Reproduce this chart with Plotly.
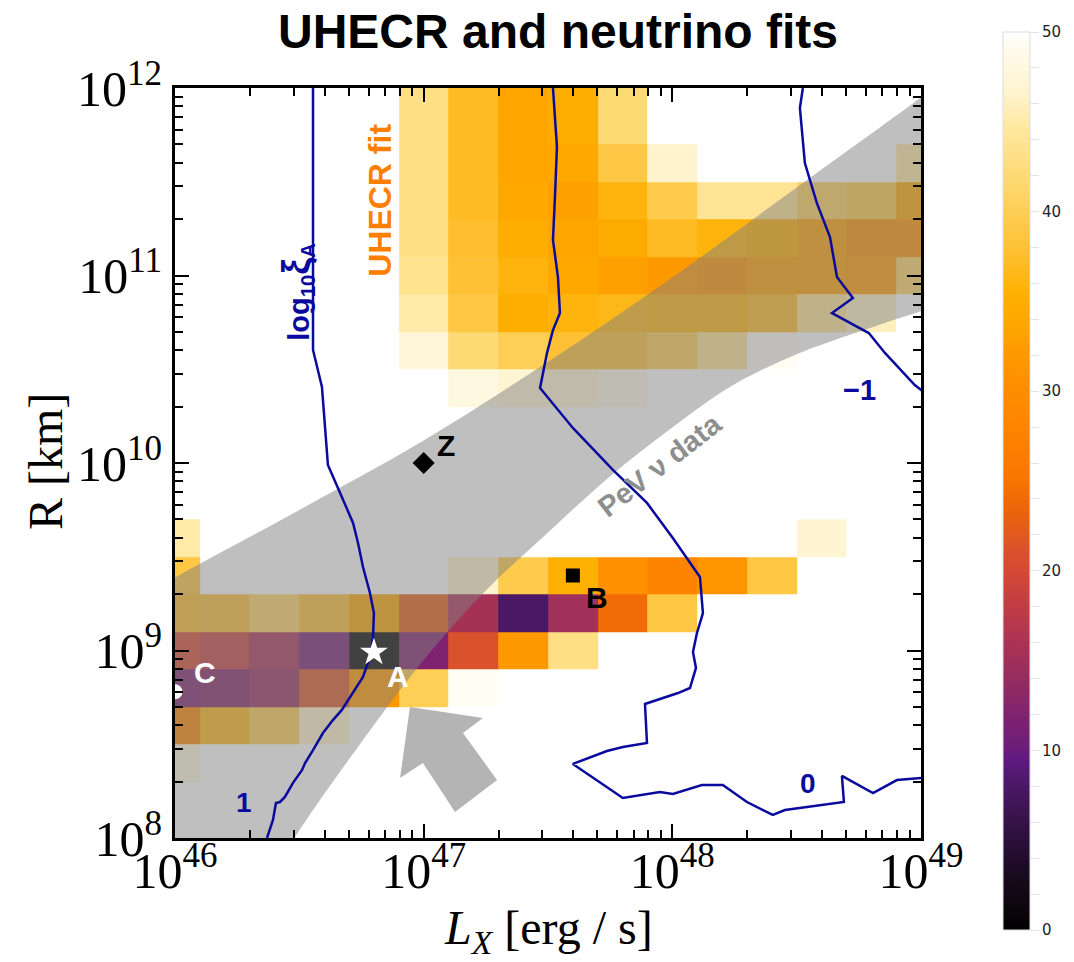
import numpy as np
import plotly.graph_objects as go

N = None
# ---- heatmap grid (cell centers in log10 units) ----
logL_centers = [46.0 + 0.2 * i for i in range(16)]
logR_centers = [8.0 + 0.2 * j for j in range(21)]

# rows listed from top (logR=12.0) to bottom (logR=8.0); columns logL 46.0 .. 49.0
z_top_to_bottom = [
    [N, N, N, N, N, 43, 37, 33.5, 35, 42, N, N, N, N, N, N],            # 12.0
    [N, N, N, N, N, 43, 37, 33.5, 35, 42, N, N, N, N, N, N],            # 11.8
    [N, N, N, N, N, 43, 37, 33.5, 34, 39, 46.5, N, N, N, N, 45],        # 11.6
    [N, N, N, N, N, 43, 37, 34, 33, 36, 39.5, 44, 44, 40.5, 39.5, 34],  # 11.4
    [N, N, N, N, N, 43, 37.5, 35, 33.5, 34.5, 37, 36, 35, 33, 30.5, 31],  # 11.2
    [N, N, N, N, N, 43.5, 38, 36, 34, 33, 32, 31.5, 33, 33, 32, 41],    # 11.0
    [N, N, N, N, N, 45, 39, 35, 36, 36.5, 36, 36, 37, 44, 46, N],       # 10.8
    [N, N, N, N, N, 47.5, 42, 40, 38, 38, 40, 44, 49.5, N, N, N],       # 10.6
    [N, N, N, N, N, N, 48, 47, 47, 48.5, N, N, N, N, N, N],             # 10.4
    [N] * 16,                                                           # 10.2
    [N] * 16,                                                           # 10.0
    [N] * 16,                                                           # 9.8
    [45, N, N, N, N, N, N, N, N, N, N, N, N, 47, N, N],                 # 9.6
    [39, N, N, N, N, N, 46.5, 39.5, 35.5, 30.5, 28, 31.5, 39, N, N, N],  # 9.4
    [37.5, 38, 41, 38, 34, 22.5, 15.5, 8, 15, 24, 39, N, N, N, N, N],   # 9.2
    [20, 18.5, 15.5, 11, 0.5, 12, 21, 32, 43, N, N, N, N, N, N, N],     # 9.0
    [12, 12.5, 14, 21.5, 32, 40, 49.5, N, N, N, N, N, N, N, N, N],      # 8.8
    [28.5, 36.5, 40, 46.5, N, N, N, N, N, N, N, N, N, N, N, N],         # 8.6
    [48, N, N, N, N, N, N, N, N, N, N, N, N, N, N, N],                  # 8.4
    [N] * 16,                                                           # 8.2
    [N] * 16,                                                           # 8.0
]
z = [[np.nan if v is None else v for v in row] for row in z_top_to_bottom[::-1]]

# ---- PeV neutrino band edges (log10 L, log10 R) ----
band_upper_logL = [45.8, 46.0, 46.5, 47.0, 47.5, 48.0, 48.5, 49.0, 49.2]
band_upper_logR = [9.24, 9.39, 9.75, 10.12, 10.54, 10.99, 11.47, 11.95, 12.15]
band_lower_logL = [49.2, 49.0, 48.75, 48.5, 48.25, 48.0, 47.75, 47.5, 47.25, 47.0, 46.7, 46.48, 46.3, 45.8]
band_lower_logR = [10.88, 10.81, 10.70, 10.58, 10.42, 10.19, 9.93, 9.63, 9.32, 8.95, 8.42, 8.0, 7.6, 7.6]

# ---- log10 xi_A contours ----
c1_logL = [46.555, 46.555, 46.591, 46.603, 46.615, 46.671, 46.716, 46.736, 46.756, 46.784, 46.800,
           46.796, 46.784, 46.756, 46.716, 46.671, 46.635, 46.595, 46.555, 46.523, 46.511, 46.474,
           46.442, 46.422, 46.406, 46.394, 46.370]
c1_logR = [12.0, 10.603, 10.405, 10.176, 9.989, 9.819, 9.680, 9.573, 9.445, 9.307, 9.200,
           9.056, 8.965, 8.859, 8.773, 8.683, 8.629, 8.560, 8.469, 8.400, 8.363, 8.293,
           8.219, 8.192, 8.187, 8.096, 8.0]
c0_logL = [47.520, 47.536, 47.528, 47.520, 47.540, 47.548, 47.520, 47.496, 47.468, 47.600, 47.761,
           47.898, 48.002, 48.111, 48.123, 48.099, 48.083, 48.095, 48.071, 48.023, 47.890, 47.898,
           47.801, 47.737, 47.600, 47.801, 47.950, 48.002, 48.119, 48.203, 48.300, 48.404, 48.453,
           48.622, 48.690, 48.682, 48.807, 48.903, 49.004]
c0_logR = [12.0, 11.685, 11.419, 11.189, 10.992, 10.800, 10.709, 10.587, 10.400, 10.187, 9.963,
           9.787, 9.600, 9.392, 9.200, 9.093, 8.992, 8.907, 8.800, 8.773, 8.715, 8.507,
           8.485, 8.464, 8.395, 8.213, 8.245, 8.235, 8.283, 8.283, 8.192, 8.123, 8.149,
           8.181, 8.192, 8.331, 8.240, 8.309, 8.320]
cm1_logL = [48.525, 48.513, 48.533, 48.581, 48.634, 48.662, 48.726, 48.642, 48.790, 48.855, 48.975, 49.016]
cm1_logR = [12.0, 11.893, 11.600, 11.387, 11.205, 10.992, 10.880, 10.800, 10.693, 10.587, 10.416, 10.373]

# ---- benchmark points ----
pt_names = ["Z", "B", "A", "C"]
pt_logL = [47.0, 47.6, 46.8, 46.0]
pt_logR = [10.0, 9.4, 8.99, 8.78]

# ---- arrow outline ----
arrow_logL = [46.945, 46.905, 46.997, 47.126, 47.295, 47.158, 47.238, 46.945]
arrow_logR = [8.699, 8.320, 8.400, 8.139, 8.309, 8.560, 8.640, 8.699]

# colour scale (0..50)
cs = [
    [0.00, "rgb(0,0,0)"], [0.02, "rgb(10,5,10)"], [0.06, "rgb(25,10,30)"], [0.094, "rgb(40,15,55)"],
    [0.132, "rgb(60,20,80)"], [0.17, "rgb(80,25,110)"], [0.19, "rgb(95,25,130)"],
    [0.206, "rgb(110,30,120)"], [0.244, "rgb(130,35,110)"], [0.28, "rgb(150,45,95)"],
    [0.318, "rgb(170,50,85)"], [0.356, "rgb(190,60,70)"], [0.392, "rgb(210,70,55)"],
    [0.428, "rgb(220,85,40)"], [0.466, "rgb(235,100,10)"], [0.504, "rgb(250,118,0)"],
    [0.56, "rgb(254,132,0)"], [0.596, "rgb(254,140,0)"], [0.634, "rgb(254,150,0)"],
    [0.67, "rgb(254,165,0)"], [0.708, "rgb(254,176,0)"], [0.744, "rgb(254,188,40)"],
    [0.782, "rgb(254,200,70)"], [0.818, "rgb(254,212,100)"], [0.856, "rgb(254,222,130)"],
    [0.894, "rgb(255,232,160)"], [0.93, "rgb(255,243,205)"], [0.986, "rgb(255,252,240)"],
    [1.0, "rgb(255,255,255)"],
]

def p10(v):
    return 10.0 ** float(v)

x_edges = [p10(c - 0.1) for c in logL_centers] + [p10(logL_centers[-1] + 0.1)]
y_edges = [p10(c - 0.1) for c in logR_centers] + [p10(logR_centers[-1] + 0.1)]

fig = go.Figure()
fig.add_trace(go.Heatmap(
    x=x_edges, y=y_edges, z=z, zmin=0, zmax=50, colorscale=cs,
    hoverongaps=False,
    colorbar=dict(
        thickness=27, lenmode="pixels", len=898, ypad=0, xpad=0, yanchor="top", y=(838 - 32) / 750,
        xanchor="left", x=(1003 - 175) / 746, outlinewidth=1, outlinecolor="#dddddd",
        tickmode="array", tickvals=list(range(0, 51, 2)),
        ticktext=[str(v) if v % 10 == 0 else "" for v in range(0, 51, 2)],
        ticks="outside", ticklen=9, tickcolor="#e4e4e4",
        tickfont=dict(family="DejaVu Sans", size=15, color="#222222"),
    ),
))

band_x = [p10(v) for v in band_upper_logL + band_lower_logL]
band_y = [p10(v) for v in band_upper_logR + band_lower_logR]
fig.add_trace(go.Scatter(x=band_x, y=band_y, mode="lines", fill="toself",
                         fillcolor="rgba(128,128,128,0.5)", line=dict(width=0, shape="spline"),
                         hoverinfo="skip", showlegend=False))

blue = "#0a0a9e"
for lx, ly in [(c1_logL, c1_logR), (c0_logL, c0_logR), (cm1_logL, cm1_logR)]:
    fig.add_trace(go.Scatter(x=[p10(v) for v in lx], y=[p10(v) for v in ly], mode="lines",
                             line=dict(color=blue, width=2.5), showlegend=False, hoverinfo="skip"))

fig.add_trace(go.Scatter(x=[p10(v) for v in arrow_logL], y=[p10(v) for v in arrow_logR],
                         mode="lines", fill="toself", fillcolor="#b3b4b3",
                         line=dict(width=0), showlegend=False, hoverinfo="skip"))

sym = {"Z": ("diamond", "black", 17), "B": ("square", "black", 14),
       "A": ("star", "white", 21), "C": ("circle", "white", 15)}
for n, lx, ly in zip(pt_names, pt_logL, pt_logR):
    s, c, sz = sym[n]
    fig.add_trace(go.Scatter(x=[p10(lx)], y=[p10(ly)], mode="markers",
                             marker=dict(symbol=s, color=c, size=sz, line=dict(width=0)),
                             showlegend=False, hoverinfo="skip"))

sans = "Liberation Sans, Arial, sans-serif"
serif = "Liberation Serif, Times New Roman, serif"
ann = []
def a(text, x, y, color, size, angle=0):
    ann.append(dict(text="<b>" + text + "</b>", x=x, y=y, xref="x", yref="y", showarrow=False,
                    textangle=angle, font=dict(family=sans, size=size, color=color),
                    xanchor="center", yanchor="middle"))
a("UHECR fit", 46.824, 11.403, "#ff8000", 32, -90)
a("log<sub>10</sub><span style='font-size:38px'>ξ</span><sub>A</sub>", 46.49, 10.912, blue, 29, -90)
a("1", 46.277, 8.192, blue, 28)
a("0", 48.545, 8.293, blue, 28)
a("−1", 48.754, 10.389, blue, 29)
a("PeV ν data", 47.95, 9.989, "#8e8e8e", 29, -38)
a("Z", 47.09, 10.091, "black", 30)
a("B", 47.697, 9.285, "black", 30)
a("A", 46.897, 8.859, "white", 30)
a("C", 46.121, 8.885, "white", 30)

ann.append(dict(text="<i>L</i><sub><i>X</i></sub> [erg / s]", x=(548 - 175) / 746, y=-(931 - 838) / 750,
                xref="paper", yref="paper", showarrow=False, xanchor="center", yanchor="middle",
                font=dict(family=serif, size=48, color="black")))
ann.append(dict(text="R [km]", x=-(175 - 45) / 746, y=(838 - 462) / 750, textangle=-90,
                xref="paper", yref="paper", showarrow=False, xanchor="center", yanchor="middle",
                font=dict(family=serif, size=48, color="black")))

x_major = [46, 47, 48, 49]
y_major = [8, 9, 10, 11, 12]
x_minor = [k * p10(d) for d in range(46, 49) for k in range(2, 10)]
y_minor = [k * p10(d) for d in range(8, 12) for k in range(2, 10)]

axis_common = dict(type="log", showgrid=False, zeroline=False, showline=True, linewidth=3,
                   linecolor="black", mirror="allticks", ticks="inside", ticklen=14, tickwidth=2,
                   tickcolor="black", tickfont=dict(family=serif, size=50, color="black"))
fig.update_xaxes(range=[46, 49], tickmode="array", tickvals=[p10(d) for d in x_major],
                 ticktext=["10<sup>%d</sup>" % d for d in x_major], ticklabelstandoff=-13,
                 minor=dict(tickmode="array", tickvals=x_minor, ticks="inside", ticklen=8,
                            tickwidth=2, tickcolor="black"), **axis_common)
fig.update_yaxes(range=[8, 12], tickmode="array", tickvals=[p10(d) for d in y_major],
                 ticktext=["10<sup>%d</sup>" % d for d in y_major],
                 minor=dict(tickmode="array", tickvals=y_minor, ticks="inside", ticklen=8,
                            tickwidth=2, tickcolor="black"), **axis_common)

fig.update_layout(
    width=1074, height=962, autosize=False,
    margin=dict(l=175, r=153, t=88, b=124, autoexpand=False),
    paper_bgcolor="white", plot_bgcolor="white",
    title=dict(text="<b>UHECR and neutrino fits</b>", x=558 / 1074, xanchor="center",
               y=1 - 31 / 962, yanchor="middle", xref="container", yref="container",
               font=dict(family=sans, size=48, color="black")),
    annotations=ann, showlegend=False,
)
fig.write_html("out.html")
